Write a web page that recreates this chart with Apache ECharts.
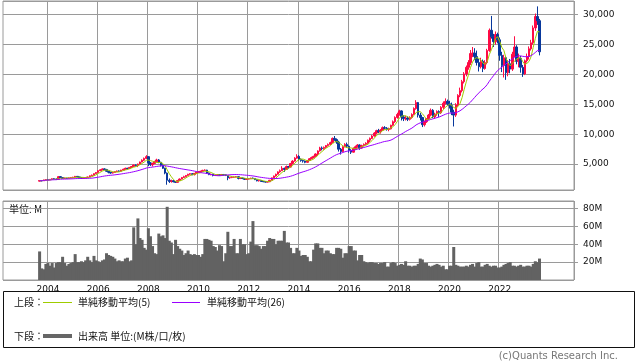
<!DOCTYPE html>
<html><head><meta charset="utf-8">
<script src="https://cdn.jsdelivr.net/npm/echarts@6/dist/echarts.min.js"></script>
<style>html,body{margin:0;padding:0;background:#fff}#c{width:638px;height:362px}</style>
</head><body><div id="c"></div>
<script>
// first data month and axis extent
const dataStart = [2003, 9];
const axisStart = [2002, 4];
const axisEnd = [2024, 12];
const yearTicks = ['2004','2006','2008','2010','2012','2014','2016','2018','2020','2022'];

// monthly candles [open, close, low, high]
const ohlc2003 = [[2150,2250,2100,2330],[2250,2200,2120,2320],[2200,2350,2170,2400],[2350,2400,2280,2460]];
const ohlc2004 = [[2400,2380,2300,2480],[2380,2450,2330,2500],[2450,2550,2400,2620],[2550,2500,2440,2640],[2500,2450,2350,2560],[2450,2900,2430,2980],[2900,2750,2680,3000],[2750,2600,2550,2800],[2600,2650,2540,2720],[2650,2600,2520,2700],[2600,2700,2570,2760],[2700,2750,2650,2820]];
const ohlc2005 = [[2750,2800,2700,2880],[2800,2950,2760,3020],[2950,2850,2780,3000],[2850,2700,2620,2880],[2700,2650,2580,2750],[2650,2700,2600,2760],[2700,2750,2650,2820],[2750,2850,2720,2900],[2850,3050,2820,3100],[3050,3150,2980,3250],[3150,3400,3100,3450],[3400,3600,3350,3680]];
const ohlc2006 = [[3600,3900,3550,4000],[3900,4050,3820,4150],[4050,4200,3980,4280],[4200,4100,3950,4300],[4100,3800,3700,4200],[3800,3650,3450,3880],[3650,3500,3380,3700],[3500,3600,3420,3680],[3600,3750,3550,3800],[3750,3850,3680,3920],[3850,3800,3700,3950],[3800,4000,3760,4050]];
const ohlc2007 = [[4000,4150,3950,4220],[4150,4300,4080,4400],[4300,4250,4100,4380],[4250,4450,4200,4520],[4450,4600,4380,4680],[4600,4850,4550,4920],[4850,4750,4600,4950],[4750,5000,4500,5080],[5000,5350,4950,5420],[5350,5650,5300,5800],[5650,5950,5500,6100],[5950,6250,5850,6500]];
const ohlc2008 = [[6250,5200,4650,6300],[5200,4900,4700,5350],[4900,5100,4600,5250],[5100,5400,5000,5550],[5400,5700,5300,5900],[5700,5300,5150,5850],[5300,4800,4600,5400],[4800,4300,4200,4950],[4300,3500,3300,4400],[3500,2300,1550,3600],[2300,2100,1850,2600],[2100,2200,1900,2400]];
const ohlc2009 = [[2200,2050,1950,2350],[2050,1950,1850,2150],[1950,2250,1880,2350],[2250,2500,2200,2600],[2500,2750,2450,2850],[2750,2900,2700,3050],[2900,3100,2780,3180],[3100,3300,3050,3380],[3300,3400,3200,3500],[3400,3250,3150,3480],[3250,3450,3100,3500],[3450,3650,3400,3720]];
const ohlc2010 = [[3650,3700,3550,3850],[3700,3800,3600,3880],[3800,3950,3750,4050],[3950,4000,3850,4120],[4000,3500,3350,4050],[3500,3250,3150,3600],[3250,3300,3120,3400],[3300,3100,2950,3350],[3100,3150,3000,3250],[3150,3200,3050,3300],[3200,3150,3050,3300],[3150,3250,3100,3350]];
const ohlc2011 = [[3250,3200,3100,3350],[3200,3100,3000,3300],[3100,2700,2300,3150],[2700,2750,2550,2850],[2750,2800,2650,2900],[2800,2850,2700,2920],[2850,2900,2780,3000],[2900,2600,2450,2950],[2600,2650,2500,2720],[2650,2600,2480,2750],[2600,2450,2350,2650],[2450,2500,2380,2580]];
const ohlc2012 = [[2500,2550,2420,2620],[2550,2650,2500,2720],[2650,2600,2520,2750],[2600,2400,2330,2650],[2400,2200,2120,2450],[2200,2250,2080,2320],[2250,2100,2030,2300],[2100,2050,1980,2180],[2050,2000,1930,2130],[2000,2050,1940,2120],[2050,2300,2000,2350],[2300,2700,2280,2750]];
const ohlc2013 = [[2700,3000,2650,3080],[3000,3300,2900,3400],[3300,3700,3250,3800],[3700,3900,3550,4100],[3900,4300,3850,4650],[4300,4100,3700,4400],[4100,4600,4050,4750],[4600,4500,4250,4700],[4500,5100,4450,5200],[5100,5500,4950,5650],[5500,6000,5400,6150],[6000,6300,5900,6650]];
const ohlc2014 = [[6300,5800,5600,6500],[5800,5600,5400,5950],[5600,5500,5250,5750],[5500,5300,5150,5600],[5300,5600,5250,5700],[5600,5900,5550,6000],[5900,6100,5800,6250],[6100,6300,5950,6400],[6300,6700,6200,6800],[6700,7200,6400,7300],[7200,7700,7100,7900],[7700,7600,7300,7950]];
const ohlc2015 = [[7600,7800,7400,7950],[7800,8100,7700,8200],[8100,8300,7950,8450],[8300,8600,8200,8750],[8600,9300,8500,9450],[9300,9100,8900,9700],[9100,8700,8400,9300],[8700,7500,7100,8900],[7500,7100,6600,7700],[7100,7900,7000,8000],[7900,8300,7800,8500],[8300,8000,7700,8600]];
const ohlc2016 = [[8000,7300,6900,8100],[7300,7000,6700,7500],[7000,7600,6950,7800],[7600,7900,7400,8100],[7900,8200,7750,8350],[8200,7700,7400,8300],[7700,8100,7600,8250],[8100,8300,7950,8450],[8300,8500,8150,8650],[8500,9000,8400,9100],[9000,9300,8700,9450],[9300,9700,9200,9850]];
const ohlc2017 = [[9700,10200,9600,10350],[10200,10600,10050,10750],[10600,10400,10200,10900],[10400,10700,10100,10850],[10700,11100,10600,11300],[11100,11000,10800,11350],[11000,10800,10600,11200],[10800,10900,10500,11100],[10900,11500,10800,11600],[11500,12100,11400,12300],[12100,12800,11900,13000],[12800,13300,12600,13600]];
const ohlc2018 = [[13300,13900,13100,14100],[13900,12900,12300,14000],[12900,12600,12200,13200],[12600,12700,12300,13100],[12700,12500,12200,13000],[12500,12800,12300,13000],[12800,13300,12600,13500],[13300,14300,13200,14500],[14300,15300,14100,15700],[15300,13200,12800,15400],[13200,12800,12300,13600],[12800,11600,11200,12900]];
const ohlc2019 = [[11600,12100,11300,12300],[12100,12600,11900,12700],[12600,13200,12400,13400],[13200,14000,13000,14300],[14000,12900,12700,14200],[12900,13400,12600,13600],[13400,13800,13100,14000],[13800,13600,12900,14000],[13600,14500,13400,14700],[14500,15200,14200,15500],[15200,15500,15000,16000],[15500,15100,14800,15800]];
const ohlc2020 = [[15100,14800,14300,15600],[14800,13700,13200,15300],[13700,13200,11300,14100],[13200,14900,12900,15200],[14900,16500,14600,16700],[16500,17300,16200,17800],[17300,18800,17000,19100],[18800,20100,18500,20400],[20100,21200,19700,21500],[21200,22000,20800,22400],[22000,23500,21600,24100],[23500,23600,22900,24600]];
const ohlc2021 = [[23600,23000,22400,24400],[23000,22000,21500,24000],[22000,21300,20500,22600],[21300,22200,21000,22800],[22200,21000,20400,22500],[21000,22000,20800,22400],[22000,24000,21700,24300],[24000,27400,23800,27700],[27400,26300,26000,29800],[26300,25500,24600,26800],[25500,26700,25000,27200],[26700,25800,25200,27000]];
const ohlc2022 = [[25800,23200,22300,26200],[23200,21500,20400,23800],[21500,22800,19500,23300],[22800,20300,19100,23100],[20300,21800,19700,22400],[21800,20900,20200,22600],[20900,23400,20600,23800],[23400,24600,22900,26400],[24600,22200,21700,24900],[22200,22700,21200,23500],[22700,21200,20300,23100],[21200,20100,19600,21600]];
const ohlc2023 = [[20100,22300,19900,22500],[22300,23000,22000,23500],[23000,24300,22500,24700],[24300,25300,24000,25800],[25300,27800,25000,28200],[27800,29700,27300,30200],[29700,29000,28300,31400],[29000,23800,23200,29300]];

// monthly volume (millions)
const vol2003 = [32,13,12,18];
const vol2004 = [19,16,19,14,19,20,20,26,19,16,18,19];
const vol2005 = [20,29,20,20,21,20,22,26,22,20,27,22];
const vol2006 = [21,20,22,23,30,28,27,26,24,21,22,21];
const vol2007 = [21,24,25,21,22,59,40,69,47,45,36,34];
const vol2008 = [58,49,38,30,29,52,49,50,47,82,44,42];
const vol2009 = [29,45,38,35,33,28,30,33,29,28,29,28];
const vol2010 = [28,26,29,46,46,45,44,38,37,33,39,38];
const vol2011 = [21,30,54,38,38,46,30,30,46,40,40,29];
const vol2012 = [30,43,66,39,39,38,35,38,38,44,47,46];
const vol2013 = [46,40,44,44,44,55,42,42,36,30,30,36];
const vol2014 = [33,27,28,28,26,21,21,34,41,41,36,36];
const vol2015 = [30,33,33,30,29,29,36,36,35,25,30,30];
const vol2016 = [38,38,33,33,22,28,28,21,20,19,20,20];
const vol2017 = [19,19,18,19,19,20,15,15,19,20,19,16];
const vol2018 = [17,18,17,21,16,16,15,16,16,18,24,23];
const vol2019 = [19,19,16,15,16,17,18,17,15,16,12,12];
const vol2020 = [16,16,37,17,16,15,15,15,16,15,17,18];
const vol2021 = [15,19,20,15,15,17,18,16,15,16,16,14];
const vol2022 = [14,15,17,18,19,20,16,16,15,16,17,15];
const vol2023 = [15,16,16,15,18,21,20,24];

const priceAxis = {min: 667, max: 32300};
const volumeAxis = {min: 0, max: 88.5, interval: 20};
const maPeriods = [5, 26];

const ohlc = [].concat(ohlc2003,ohlc2004,ohlc2005,ohlc2006,ohlc2007,ohlc2008,ohlc2009,ohlc2010,ohlc2011,ohlc2012,ohlc2013,ohlc2014,ohlc2015,ohlc2016,ohlc2017,ohlc2018,ohlc2019,ohlc2020,ohlc2021,ohlc2022,ohlc2023);
const volume = [].concat(vol2003,vol2004,vol2005,vol2006,vol2007,vol2008,vol2009,vol2010,vol2011,vol2012,vol2013,vol2014,vol2015,vol2016,vol2017,vol2018,vol2019,vol2020,vol2021,vol2022,vol2023);

function key(y, m) { return y + '-' + String(m).padStart(2, '0'); }
const cats = [];
for (let y = axisStart[0], m = axisStart[1]; y < axisEnd[0] || (y === axisEnd[0] && m <= axisEnd[1]);) {
  cats.push(key(y, m)); m++; if (m > 12) { m = 1; y++; }
}
const offset = cats.indexOf(key(dataStart[0], dataStart[1]));
const candleData = cats.map(() => '-');
const volData = cats.map(() => '-');
ohlc.forEach((d, i) => { candleData[offset + i] = d; });
volume.forEach((v, i) => { volData[offset + i] = v; });
function ma(n) {
  return cats.map((c, i) => {
    const k = i - offset;
    if (k < 0 || k >= ohlc.length) return '-';
    const s = Math.max(0, k - n + 1);
    let sum = 0;
    for (let j = s; j <= k; j++) sum += ohlc[j][1];
    return Math.round(sum / (k - s + 1));
  });
}
const isTick = (idx) => { const c = cats[idx]; return c.endsWith('-01') && yearTicks.indexOf(c.slice(0, 4)) >= 0; };

const GRID = '#9a9a9a';
const numFont = 'DejaVu Sans';
const cjk = '"Noto Sans CJK JP"';
const UP = '#ff0a44', DOWN = '#08389c';

const chart = echarts.init(document.getElementById('c'), null, {renderer: 'canvas'});
const xCommon = {
  type: 'category', data: cats, boundaryGap: true,
  axisLine: {show: false}, axisTick: {show: false},
  splitLine: {show: true, interval: (i) => isTick(i), lineStyle: {color: GRID, width: 1}}
};
chart.setOption({
  animation: false,
  backgroundColor: '#fff',
  grid: [
    {left: 3, right: 64, top: 1, height: 189, show: true, borderColor: GRID, borderWidth: 1, backgroundColor: '#fff'},
    {left: 3, right: 64, top: 201, height: 79, show: true, borderColor: GRID, borderWidth: 1, backgroundColor: '#fff'}
  ],
  xAxis: [
    Object.assign({}, xCommon, {gridIndex: 0, axisLabel: {show: false}}),
    Object.assign({}, xCommon, {gridIndex: 1, axisLabel: {show: true, interval: (i) => isTick(i), formatter: (v) => v.slice(0, 4), color: '#111', fontFamily: numFont, fontSize: 9, margin: 5}})
  ],
  yAxis: [
    {gridIndex: 0, type: 'value', position: 'right', min: priceAxis.min, max: priceAxis.max, splitNumber: 6,
     axisLine: {show: false}, axisTick: {show: true, length: 4, lineStyle: {color: GRID}},
     axisLabel: {showMinLabel: false, showMaxLabel: false, color: '#111', fontFamily: numFont, fontSize: 9, margin: 9,
       formatter: (v) => v.toLocaleString('en-US')},
     splitLine: {show: true, lineStyle: {color: GRID, width: 1}}},
    {gridIndex: 1, type: 'value', position: 'right', min: volumeAxis.min, max: volumeAxis.max, interval: volumeAxis.interval,
     axisLine: {show: false}, axisTick: {show: true, length: 4, lineStyle: {color: GRID}},
     axisLabel: {showMinLabel: false, showMaxLabel: false, color: '#111', fontFamily: numFont, fontSize: 9, margin: 9,
       formatter: (v) => v === 0 ? '' : v + 'M'},
     splitLine: {show: true, lineStyle: {color: GRID, width: 1}}}
  ],
  series: [
    {type: 'candlestick', xAxisIndex: 0, yAxisIndex: 0, data: candleData, barWidth: 2,
     itemStyle: {color: UP, color0: DOWN, borderColor: UP, borderColor0: DOWN, borderWidth: 1}},
    {type: 'line', name: 'MA5', xAxisIndex: 0, yAxisIndex: 0, data: ma(maPeriods[0]), showSymbol: false, symbol: 'none',
     lineStyle: {color: '#9fcc00', width: 1}},
    {type: 'line', name: 'MA26', xAxisIndex: 0, yAxisIndex: 0, data: ma(maPeriods[1]), showSymbol: false, symbol: 'none',
     lineStyle: {color: '#9a00ff', width: 1}},
    {type: 'bar', xAxisIndex: 1, yAxisIndex: 1, data: volData, barWidth: 3, barGap: '-100%', itemStyle: {color: '#626262'}}
  ],
  graphic: [
    {type: 'text', left: 8, top: 203, style: {text: '単位: M', font: '10px ' + cjk, fill: '#111', backgroundColor: '#fff', padding: [1, 1]}},
    {type: 'rect', shape: {x: 3.5, y: 291.5, width: 631, height: 56}, style: {fill: 'none', stroke: '#111', lineWidth: 1}},
    {type: 'text', x: 14, y: 302, style: {text: '上段：', font: '10px ' + cjk, fill: '#111', textVerticalAlign: 'middle'}},
    {type: 'line', shape: {x1: 43, y1: 302.5, x2: 72, y2: 302.5}, style: {stroke: '#9fcc00', lineWidth: 1}},
    {type: 'text', x: 78, y: 302, style: {text: '単純移動平均(5)', font: '10px ' + cjk, fill: '#111', textVerticalAlign: 'middle'}},
    {type: 'line', shape: {x1: 172, y1: 302.5, x2: 200, y2: 302.5}, style: {stroke: '#9a00ff', lineWidth: 1}},
    {type: 'text', x: 207, y: 302, style: {text: '単純移動平均(26)', font: '10px ' + cjk, fill: '#111', textVerticalAlign: 'middle'}},
    {type: 'text', x: 14, y: 336, style: {text: '下段：', font: '10px ' + cjk, fill: '#111', textVerticalAlign: 'middle'}},
    {type: 'line', shape: {x1: 43, y1: 336, x2: 72, y2: 336}, style: {stroke: '#666', lineWidth: 4}},
    {type: 'text', x: 78, y: 336, style: {text: '出来高 単位:(M株/口/枚)', font: '10px ' + cjk, fill: '#111', textVerticalAlign: 'middle'}},
    {type: 'text', right: 20, top: 351, style: {text: '(c)Quants Research Inc.', font: '10px "DejaVu Sans"', fill: '#777'}}
  ]
});
</script></body></html>
